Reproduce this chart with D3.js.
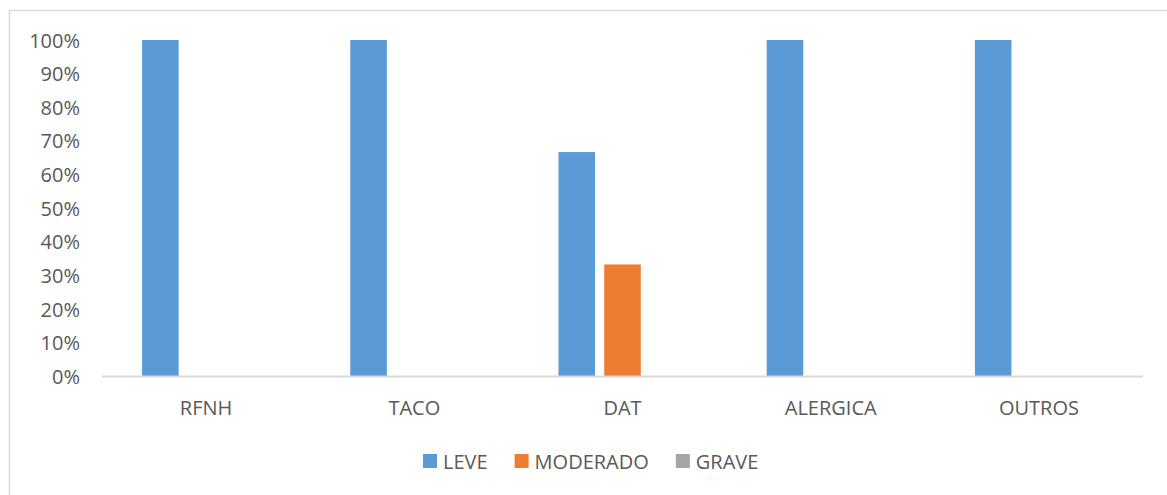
<!DOCTYPE html>
<html>
<head>
<meta charset="utf-8">
<script src="https://cdn.jsdelivr.net/npm/d3@7"></script>
<style>
  body { margin: 0; background: #fff; }
  text { font-family: "Open Sans", "Liberation Sans", sans-serif; fill: #595959; }
</style>
</head>
<body>
<svg id="chart"></svg>
<script>
var categories = ["RFNH", "TACO", "DAT", "ALERGICA", "OUTROS"];
var series = ["LEVE", "MODERADO", "GRAVE"];
var leve = [1, 1, 0.667, 1, 1];
var moderado = [0, 0, 0.333, 0, 0];
var grave = [0, 0, 0, 0, 0];
var yTicks = [0, 0.1, 0.2, 0.3, 0.4, 0.5, 0.6, 0.7, 0.8, 0.9, 1];
var colors = ["#5b9bd5", "#ed7d31", "#a5a5a5"];

var values = [leve, moderado, grave];
var width = 1167, height = 495;
var plot = { left: 102, right: 1143, top: 40, bottom: 376.5 };

var svg = d3.select("#chart").attr("width", width).attr("height", height);

// chart border (cut off at right and bottom like the picture)
svg.append("rect")
  .attr("x", 9.5).attr("y", 10.5)
  .attr("width", 1200).attr("height", 520)
  .attr("fill", "none")
  .attr("stroke", "#d9d9d9")
  .attr("stroke-width", 1.5);

var x0 = d3.scaleBand().domain(categories).range([plot.left, plot.right]);
var groupW = x0.bandwidth() * 0.615;
var x1 = d3.scaleBand().domain(series)
  .range([(x0.bandwidth() - groupW) / 2, (x0.bandwidth() + groupW) / 2])
  .paddingInner(0.2);
var y = d3.scaleLinear().domain([0, 1]).range([plot.bottom, plot.top]);

// y axis labels
var yaxis = d3.axisLeft(y).tickValues(yTicks).tickFormat(d3.format(".0%")).tickSize(0).tickPadding(0);
var gy = svg.append("g").attr("transform", "translate(80,0)").call(yaxis);
gy.select(".domain").remove();
gy.selectAll("text").style("font-size", "20px").attr("fill", "#595959")
  .style("font-family", "'Open Sans', sans-serif").attr("dy", "0.35em");

// bars
series.forEach(function (s, si) {
  svg.append("g")
    .selectAll("rect")
    .data(values[si])
    .enter()
    .append("rect")
    .attr("x", function (d, i) { return x0(categories[i]) + x1(s); })
    .attr("y", function (d) { return y(d); })
    .attr("width", x1.bandwidth())
    .attr("height", function (d) { return y(0) - y(d); })
    .attr("fill", colors[si]);
});

// x axis
var xaxis = d3.axisBottom(x0).tickSize(0).tickPadding(0);
var gx = svg.append("g").attr("transform", "translate(0," + plot.bottom + ")").call(xaxis);
gx.select(".domain").remove();
gx.selectAll("text").style("font-size", "20px").attr("fill", "#595959")
  .style("font-family", "'Open Sans', sans-serif").attr("dy", 0).attr("y", 38);
svg.append("line")
  .attr("x1", plot.left).attr("x2", plot.right)
  .attr("y1", plot.bottom).attr("y2", plot.bottom)
  .attr("stroke", "#d9d9d9").attr("stroke-width", 2);

// legend
var lx = 423;
var legend = svg.append("g");
series.forEach(function (s, si) {
  legend.append("rect")
    .attr("x", lx).attr("y", 454)
    .attr("width", 14).attr("height", 14)
    .attr("fill", colors[si]);
  var t = legend.append("text")
    .attr("x", lx + 20).attr("y", 469)
    .style("font-size", "20px")
    .text(s);
  lx += 20 + t.node().getComputedTextLength() + 27;
});
</script>
</body>
</html>
